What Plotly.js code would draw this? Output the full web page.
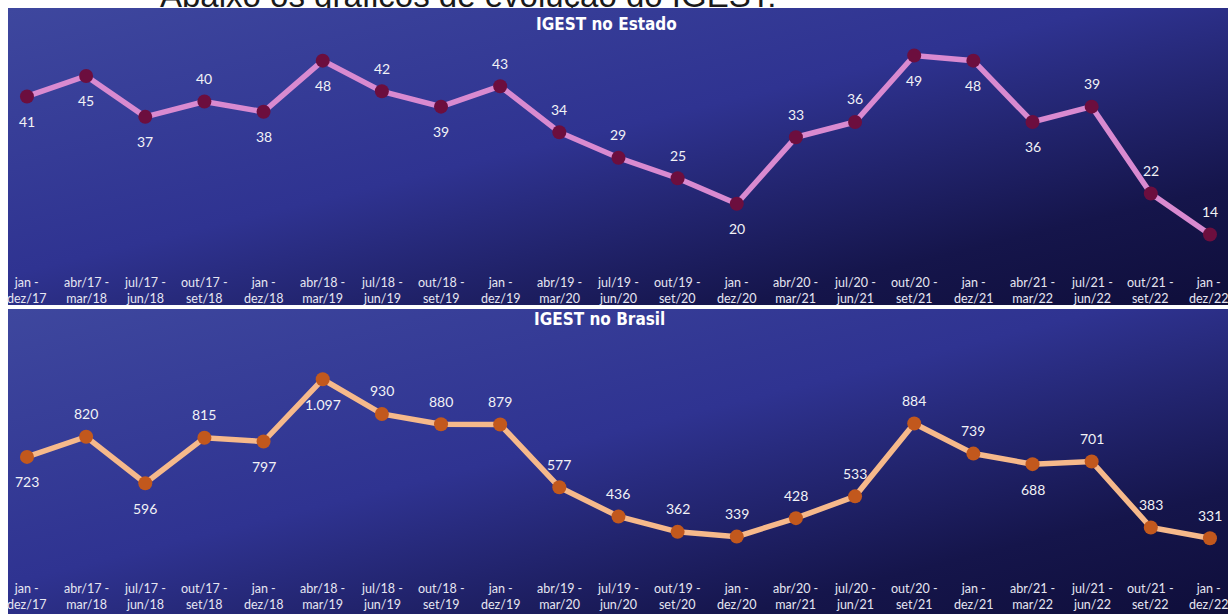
<!DOCTYPE html>
<html>
<head>
<meta charset="utf-8">
<script src="https://cdn.plot.ly/plotly-3.0.1.min.js"></script>
<style>
  html, body { margin: 0; padding: 0; background: #ffffff; width: 1228px; height: 614px; overflow: hidden; }
  #header { position: absolute; left: 160px; top: -23px; font-family: "Liberation Sans", Arial, sans-serif; font-size: 33px; color: #1a1a1a; white-space: nowrap; z-index: 1; }
  .panel { position: absolute; left: 8px; width: 1220px; z-index: 2;
           background: linear-gradient(to bottom right, #3e479e 0%, #2f3391 45%, #15154b 80%, #0f0e3a 100%); }
  #p1 { top: 8px; height: 297px; }
  #p2 { top: 309px; height: 305px; }
  #chart { position: absolute; left: 0; top: 0; width: 1228px; height: 614px; z-index: 3; }
</style>
</head>
<body>
<div id="header">Abaixo os gráficos de evolução do IGEST:</div>
<div class="panel" id="p1"></div>
<div class="panel" id="p2"></div>
<div id="chart"></div>
<script>
const periods = ["jan -<br>dez/17","abr/17 -<br>mar/18","jul/17 -<br>jun/18","out/17 -<br>set/18","jan -<br>dez/18",
  "abr/18 -<br>mar/19","jul/18 -<br>jun/19","out/18 -<br>set/19","jan -<br>dez/19","abr/19 -<br>mar/20",
  "jul/19 -<br>jun/20","out/19 -<br>set/20","jan -<br>dez/20","abr/20 -<br>mar/21","jul/20 -<br>jun/21",
  "out/20 -<br>set/21","jan -<br>dez/21","abr/21 -<br>mar/22","jul/21 -<br>jun/22","out/21 -<br>set/22","jan -<br>dez/22"];
const estado = [41,45,37,40,38,48,42,39,43,34,29,25,20,33,36,49,48,36,39,22,14];
const brasil = [723,820,596,815,797,1097,930,880,879,577,436,362,339,428,533,884,739,688,701,383,331];
const estadoLabelSide = ["b","b","b","t","b","b","t","b","t","t","t","t","b","t","t","b","b","b","t","t","t"];
const brasilLabelSide = ["b","t","b","t","b","b","t","t","t","t","t","t","t","t","t","t","t","b","t","t","t"];
const titleEstado = "IGEST no Estado";
const titleBrasil = "IGEST no Brasil";

const idx = periods.map((_, i) => i);
function fmt(v) { return String(v).replace(/\B(?=(\d{3})+(?!\d))/g, "."); }

const traces = [
  { x: idx, y: estado, xaxis: "x", yaxis: "y", mode: "lines+markers", hoverinfo: "skip",
    line: { color: "#d98ad0", width: 5.5 }, marker: { color: "#6c0e3e", size: 14 } },
  { x: idx, y: brasil, xaxis: "x2", yaxis: "y2", mode: "lines+markers", hoverinfo: "skip",
    line: { color: "#f6b98b", width: 5.5 }, marker: { color: "#c2581d", size: 14 } }
];

const labelFont = { family: "Lato, 'Open Sans', sans-serif", size: 14, color: "#f2f2f6" };
const annotations = [];
estado.forEach((v, i) => annotations.push({ x: i, y: v, xref: "x", yref: "y", text: fmt(v), showarrow: false,
  yshift: estadoLabelSide[i] === "t" ? 23 : -25, font: labelFont }));
brasil.forEach((v, i) => annotations.push({ x: i, y: v, xref: "x2", yref: "y2", text: fmt(v), showarrow: false,
  yshift: brasilLabelSide[i] === "t" ? 23 : -25, font: labelFont }));

const tickFont = { family: "Lato, 'Open Sans', sans-serif", size: 12.5, color: "#e6e6f2" };
const last = periods.length - 1;
[["x", 290], ["x2", 596]].forEach(([ax, py]) => {
  periods.forEach((p, i) => annotations.push({ x: i, y: 1 - py / 614, xref: ax, yref: "paper",
    yanchor: "middle", text: p, showarrow: false, font: tickFont,
    xanchor: i === last ? "right" : "center", xshift: i === last ? 20 : 0 }));
});

const titleFont = { family: "'Liberation Sans Narrow', 'DejaVu Sans Condensed', Roboto, sans-serif", size: 17, color: "#ffffff", weight: "bold" };
annotations.push({ x: 606/1228, y: 1 - 24/614, xref: "paper", yref: "paper", yanchor: "middle", text: "<b>" + titleEstado + "</b>", showarrow: false, font: titleFont });
annotations.push({ x: 599/1228, y: 1 - 319/614, xref: "paper", yref: "paper", yanchor: "middle", text: "<b>" + titleBrasil + "</b>", showarrow: false, font: titleFont });

const xbase = { range: [-0.456, 20.305], showgrid: false, zeroline: false, showline: false, showticklabels: false, ticks: "", fixedrange: true };

const layout = {
  width: 1228, height: 614, margin: { l: 0, r: 0, t: 0, b: 0 },
  paper_bgcolor: "rgba(0,0,0,0)", plot_bgcolor: "rgba(0,0,0,0)", showlegend: false,
  xaxis: Object.assign({}, xbase, { anchor: "y" }),
  xaxis2: Object.assign({}, xbase, { anchor: "y2" }),
  yaxis: { domain: [1 - 306/614, 1 - 8/614], range: [0, 58.3], visible: false, fixedrange: true },
  yaxis2: { domain: [1 - 607/614, 1 - 312/614], range: [0, 1421], visible: false, fixedrange: true },
  annotations: annotations
};
Plotly.newPlot("chart", traces, layout, { displayModeBar: false, staticPlot: true });
</script>
</body>
</html>
